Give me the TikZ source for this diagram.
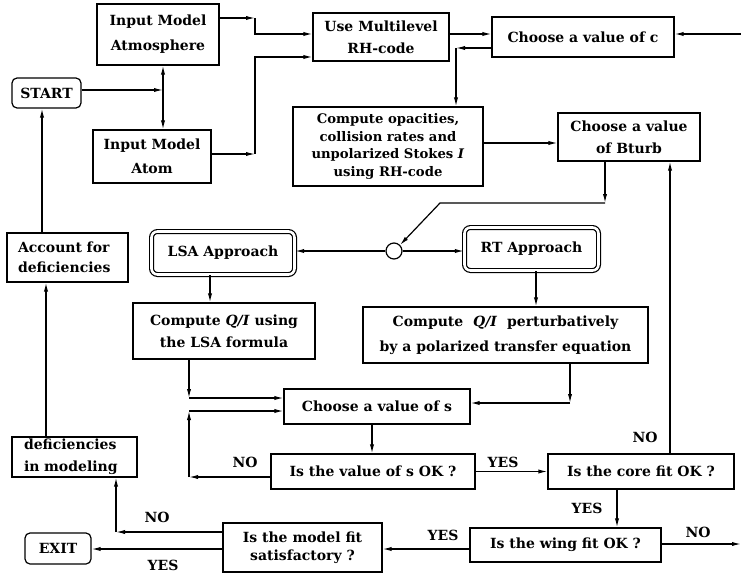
\documentclass[tikz,border=0pt]{standalone}
\usepackage{fontspec}
\setmainfont{DejaVu Serif}
\usetikzlibrary{calc,arrows.meta}

\begin{document}
\begin{tikzpicture}[x=1pt,y=-1pt,
  box/.style={draw, line width=1.2pt, align=center, inner sep=1pt,
    font=\bfseries\fontsize{14}{22}\selectfont},
  sz/.style 2 args={minimum width=#1, minimum height=#2},
  lsk/.style={font=\bfseries\fontsize{14}{#1}\selectfont},
  term/.style={box, rounded corners=5pt},
  appr/.style={box, double, double distance=2.6pt, rounded corners=6pt},
  junc/.style={draw, line width=1.2pt, circle, minimum size=16, inner sep=0pt},
  lab/.style={font=\bfseries\fontsize{14}{14}\selectfont},
  arr/.style={-{Latex[length=9pt,width=4.2pt]}, line width=1.2pt},
  arrtwo/.style={{Latex[length=9pt,width=4.2pt]}-{Latex[length=9pt,width=4.2pt]}, line width=1.2pt}
]
  \useasboundingbox (0,0) rectangle (741,575);
  % Inputs and start
  \node[box, sz={122}{61}, lsk=25] (atm) at (158,34.5) {Input Model\\Atmosphere};
  \node[box, sz={118}{53}, lsk=24] (atom) at (152,156.5) {Input Model\\Atom};
  \node[term, sz={69}{30}] (start) at (46.5,93) {START};
  % RH-code stage
  \node[box, sz={136}{48}] (rh) at (381,37) {Use Multilevel\\RH-code};
  \node[box, sz={182}{40}] (choosec) at (583,37) {Choose a value of c};
  \node[box, sz={190}{79}, font=\bfseries\fontsize{13.2}{17.5}\selectfont] (opac) at (388,146.5)
    {Compute opacities,\\collision rates and\\unpolarized Stokes \textit{I}\\using RH-code};
  \node[box, sz={142}{48}] (bturb) at (629,137) {Choose a value\\of Bturb};
  % Two approaches
  \node[junc] (circ) at (394,251) {};
  \node[appr, sz={143}{43}] (lsa) at (223,253) {LSA Approach};
  \node[appr, sz={134}{43}] (rt) at (531.5,249) {RT Approach};
  \node[box, sz={182}{56}] (lsaq) at (224,331) {Compute \textit{Q/I} using\\the LSA formula};
  \node[box, sz={285}{56}, lsk=25] (rtq) at (505.5,335)
    {Compute~~\textit{Q/I}~~perturbatively\\by a polarized~transfer equation};
  % Fitting loop
  \node[box, sz={186}{35}] (chs) at (377,406.5) {Choose a value of s};
  \node[box, sz={204}{35}] (sok) at (373,471.5) {Is the value of s OK ?};
  \node[box, sz={186}{35}] (core) at (641,471.5) {Is the core fit OK ?};
  \node[box, sz={191}{34}] (wing) at (565.5,545) {Is the wing fit OK ?};
  \node[box, sz={159}{49}, lsk=18] (model) at (302.5,547.5) {Is the model fit\\satisfactory ?};
  \node[term, sz={66}{31}] (exit) at (58,548.5) {EXIT};
  \node[box, sz={125}{40}, text width=101, align=left] (defm) at (74.5,457) {deficiencies\\in modeling};
  \node[box, sz={121}{49}, lsk=20, text width=99, align=left] (acct) at (67.5,257.5) {Account for\\deficiencies};

  % Junction points
  \coordinate (ja) at (255,18);
  \coordinate (jb) at (255,154);
  \coordinate (jv) at (163,90);
  \coordinate (cin) at (741,34);
  \coordinate (jc) at (456,48);
  \coordinate (jd) at (605,203);
  \coordinate (je) at (440,203);
  \coordinate (jf) at (189,398);
  \coordinate (jg) at (570,403);
  \coordinate (jh) at (189,477);
  \coordinate (ji) at (189,411);
  \coordinate (wout) at (741,544);
  \coordinate (jk) at (116,532);

  % Inputs into the RH-code
  \draw[arr] ($(atm.east)+(0,-16.5)$) -- (ja);
  \draw[arr] (ja) |- ($(rh.west)+(0,-3)$);
  \draw[arr] ($(atom.east)+(0,-2.5)$) -- (jb);
  \draw[arr] (jb) |- ($(rh.west)+(0,20)$);
  \draw[arr] ($(start.east)+(0,-3)$) -- (jv);
  \draw[arrtwo] ($(atm.south)+(5,0)$) -- ($(atom.north)+(11,0)$);
  % RH-code to Bturb
  \draw[arr] ($(rh.east)+(0,-3)$) -- ($(choosec.west)+(0,-3)$);
  \draw[arr] (cin) -- ($(choosec.east)+(0,-3)$);
  \draw[arr] ($(choosec.west)+(0,11)$) -- (jc);
  \draw[arr] (jc) -- (jc |- opac.north);
  \draw[arr] ($(opac.east)+(0,-3.5)$) -- ($(bturb.west)+(0,6)$);
  \draw[arr] ($(bturb.south)+(-24,0)$) -- (jd);
  \draw[arr] (jd) -- (je) -- (circ.45);
  % Approaches
  \draw[arr] (circ.west) -- (lsa.east |- circ.west);
  \draw[arr] (circ.east) -- (rt.west |- circ.east);
  \draw[arr] ($(lsa.south)+(-13,0)$) -- ($(lsaq.north)+(-14,0)$);
  \draw[arr] ($(rt.south)+(4.5,0)$) -- ($(rtq.north)+(30.5,0)$);
  \draw[arr] ($(lsaq.south)+(-35,0)$) -- (jf);
  \draw[arr] (jf) -- (chs.west |- jf);
  \draw[arr] ($(rtq.south)+(64.5,0)$) -- (jg);
  \draw[arr] (jg) -- (chs.east |- jg);
  % s loop
  \draw[arr] ($(chs.south)+(-5,0)$) -- ($(sok.north)+(-1,0)$);
  \draw[arr] (sok.west |- jh) -- (jh);
  \draw[arr] (jh) -- (ji);
  \draw[arr] (ji) -- (chs.west |- ji);
  \node[lab] (no1) at (245,462) {NO};
  \draw[arr] (sok.east) -- (core.west);
  \node[lab] (yes1) at (503,462) {YES};
  % Core and wing fits
  \draw[arr] ($(core.south)+(-24,0)$) -- ($(wing.north)+(51.5,0)$);
  \node[lab] (yes2) at (587,508) {YES};
  \draw[arr] ($(core.north)+(29,0)$) -- ($(bturb.south)+(41,0)$);
  \node[lab] (no2) at (645,437) {NO};
  \draw[arr] ($(wing.east)+(0,-1)$) -- (wout);
  \node[lab] (no3) at (698,532) {NO};
  \draw[arr] ($(wing.west)+(0,4)$) -- ($(model.east)+(0,1.5)$);
  \node[lab] (yes3) at (443,535) {YES};
  % Model fit
  \draw[arr] ($(model.west)+(0,-15.5)$) -- (jk);
  \draw[arr] (jk) -- (jk |- defm.south);
  \node[lab] (no4) at (157,517) {NO};
  \draw[arr] ($(model.west)+(0,1.5)$) -- ($(exit.east)+(0,0.5)$);
  \node[lab] (yes4) at (163,565) {YES};
  \draw[arr] ($(defm.north)+(-28.5,0)$) -- ($(acct.south)+(-21.5,0)$);
  \draw[arr] ($(acct.north)+(-25.5,0)$) -- ($(start.south)+(-4.5,0)$);
\end{tikzpicture}
\end{document}
